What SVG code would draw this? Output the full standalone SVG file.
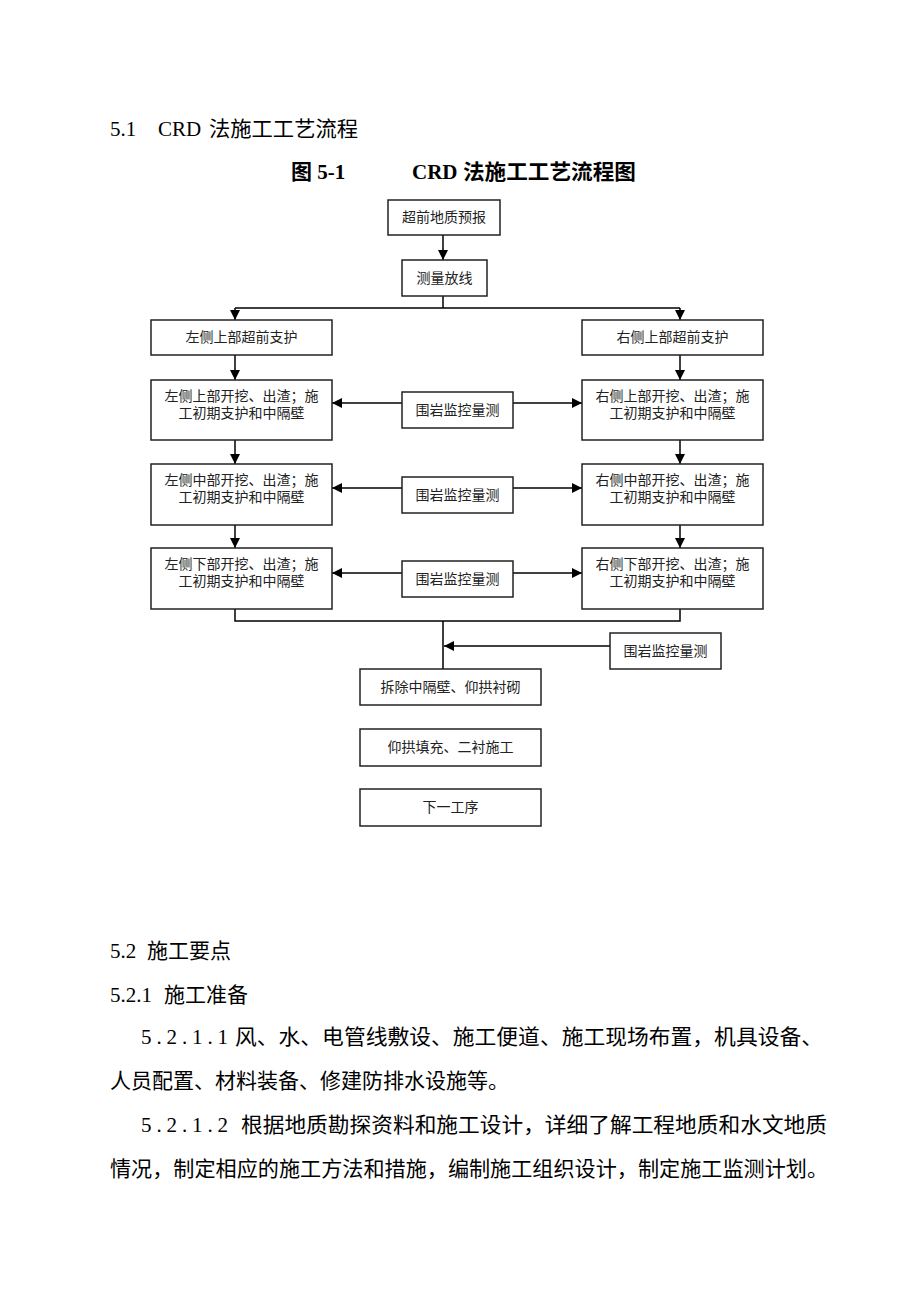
<svg xmlns="http://www.w3.org/2000/svg" width="920" height="1302" viewBox="0 0 920 1302">
<defs>
<marker id="ah" markerUnits="userSpaceOnUse" markerWidth="10" markerHeight="10" viewBox="0 0 10 10" refX="10" refY="5" orient="auto">
<path d="M0,0 L10,5 L0,10 Z" fill="#000"/>
</marker>
<style>
.bx{fill:#fff;stroke:#222;stroke-width:1.5}
.bt{font-family:"Liberation Serif","Noto Sans CJK SC",serif;font-size:14px;fill:#222;text-anchor:middle}
.ln{fill:none;stroke:#000;stroke-width:1.5}
.ar{fill:none;stroke:#000;stroke-width:1.5;marker-end:url(#ah)}
.h{font-family:"Liberation Serif","Noto Sans CJK SC",serif;font-size:21px;fill:#000}
.hb{font-family:"Liberation Serif","Noto Sans CJK SC",serif;font-size:21px;font-weight:bold;fill:#000}
</style>
</defs>
<rect width="920" height="1302" fill="#fff"/>

<g id="headings">
<text class="h" x="110" y="136">5.1</text>
<text class="h" x="158" y="136">CRD</text>
<text class="h" x="209" y="136" textLength="149" lengthAdjust="spacingAndGlyphs">法施工工艺流程</text>
<text class="hb" x="291" y="179">图 5-1</text>
<text class="hb" x="412" y="179">CRD</text>
<text class="hb" x="463" y="179" textLength="173" lengthAdjust="spacingAndGlyphs">法施工工艺流程图</text>
</g>

<g id="connectors">
<path class="ar" d="M443,235 V260"/>
<path class="ln" d="M443,296 V308 M235,308 H680"/>
<path class="ar" d="M235,308 V320"/>
<path class="ar" d="M680,308 V320"/>
<path class="ar" d="M235,355 V380"/>
<path class="ar" d="M680,355 V380"/>
<path class="ar" d="M235,440 V464"/>
<path class="ar" d="M680,440 V464"/>
<path class="ar" d="M235,525 V548"/>
<path class="ar" d="M680,525 V548"/>
<path class="ar" d="M402,403 H332"/>
<path class="ar" d="M513,403 H582"/>
<path class="ar" d="M402,488 H332"/>
<path class="ar" d="M513,488 H582"/>
<path class="ar" d="M402,573 H332"/>
<path class="ar" d="M513,573 H582"/>
<path class="ln" d="M235,609 V621 H680 V609 M443,621 V669"/>
<path class="ar" d="M610,646 H444"/>
</g>

<g id="n1"><rect class="bx" x="388" y="200" width="112" height="35"/><text class="bt" x="444" y="222">超前地质预报</text></g>
<g id="n2"><rect class="bx" x="402" y="260" width="85" height="36"/><text class="bt" x="444.5" y="283">测量放线</text></g>

<g id="l1"><rect class="bx" x="151" y="320" width="181" height="35"/><text class="bt" x="241.5" y="342">左侧上部超前支护</text></g>
<g id="r1"><rect class="bx" x="582" y="320" width="181" height="35"/><text class="bt" x="672.5" y="342">右侧上部超前支护</text></g>

<g id="l2"><rect class="bx" x="151" y="380" width="181" height="60"/><text class="bt" x="241.5" y="401">左侧上部开挖、出渣；施</text><text class="bt" x="241.5" y="418">工初期支护和中隔壁</text></g>
<g id="m2"><rect class="bx" x="402" y="392" width="111" height="36"/><text class="bt" x="457.5" y="415">围岩监控量测</text></g>
<g id="r2"><rect class="bx" x="582" y="380" width="181" height="60"/><text class="bt" x="672.5" y="401">右侧上部开挖、出渣；施</text><text class="bt" x="672.5" y="418">工初期支护和中隔壁</text></g>

<g id="l3"><rect class="bx" x="151" y="464" width="181" height="61"/><text class="bt" x="241.5" y="485">左侧中部开挖、出渣；施</text><text class="bt" x="241.5" y="502">工初期支护和中隔壁</text></g>
<g id="m3"><rect class="bx" x="402" y="477" width="111" height="36"/><text class="bt" x="457.5" y="500">围岩监控量测</text></g>
<g id="r3"><rect class="bx" x="582" y="464" width="181" height="61"/><text class="bt" x="672.5" y="485">右侧中部开挖、出渣；施</text><text class="bt" x="672.5" y="502">工初期支护和中隔壁</text></g>

<g id="l4"><rect class="bx" x="151" y="548" width="181" height="61"/><text class="bt" x="241.5" y="569">左侧下部开挖、出渣；施</text><text class="bt" x="241.5" y="586">工初期支护和中隔壁</text></g>
<g id="m4"><rect class="bx" x="402" y="561" width="111" height="36"/><text class="bt" x="457.5" y="584">围岩监控量测</text></g>
<g id="r4"><rect class="bx" x="582" y="548" width="181" height="61"/><text class="bt" x="672.5" y="569">右侧下部开挖、出渣；施</text><text class="bt" x="672.5" y="586">工初期支护和中隔壁</text></g>

<g id="m5"><rect class="bx" x="610" y="633" width="111" height="36"/><text class="bt" x="665.5" y="656">围岩监控量测</text></g>
<g id="n6"><rect class="bx" x="360" y="669" width="181" height="36"/><text class="bt" x="450.5" y="692">拆除中隔壁、仰拱衬砌</text></g>
<g id="n7"><rect class="bx" x="360" y="729" width="181" height="37"/><text class="bt" x="450.5" y="752">仰拱填充、二衬施工</text></g>
<g id="n8"><rect class="bx" x="360" y="789" width="181" height="37"/><text class="bt" x="450.5" y="812">下一工序</text></g>

<g id="body">
<text class="h" x="110" y="958">5.2</text>
<text class="h" x="147" y="958">施工要点</text>
<text class="h" x="110" y="1002">5.2.1</text>
<text class="h" x="164" y="1002">施工准备</text>
<text class="h" x="141" y="1044" textLength="87" lengthAdjust="spacing">5.2.1.1</text>
<text class="h" x="235" y="1044" textLength="588" lengthAdjust="spacingAndGlyphs">风、水、电管线敷设、施工便道、施工现场布置，机具设备、</text>
<text class="h" x="110" y="1088">人员配置、材料装备、修建防排水设施等。</text>
<text class="h" x="141" y="1132" textLength="87" lengthAdjust="spacing">5.2.1.2</text>
<text class="h" x="241" y="1132" textLength="586" lengthAdjust="spacingAndGlyphs">根据地质勘探资料和施工设计，详细了解工程地质和水文地质</text>
<text class="h" x="110" y="1176" textLength="718" lengthAdjust="spacingAndGlyphs">情况，制定相应的施工方法和措施，编制施工组织设计，制定施工监测计划。</text>
</g>
</svg>
